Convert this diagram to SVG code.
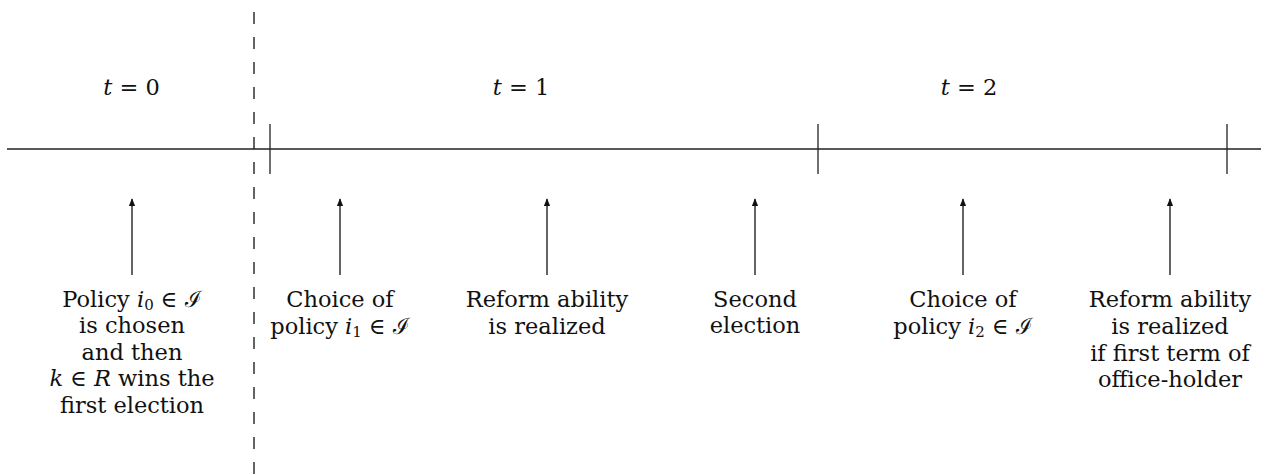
<svg xmlns="http://www.w3.org/2000/svg" width="1268" height="475" viewBox="0 0 1268 475">
<style>
.lbl{font-family:"DejaVu Serif",serif;font-size:22.5px;fill:#111;text-anchor:middle}
.m{font-style:italic}
.sub{font-size:15px}
.ax{stroke:#222;stroke-width:1.3;fill:none}
.arr{stroke:#111;stroke-width:1.3;fill:none;marker-end:url(#ah)}
</style>
<defs>
<marker id="ah" viewBox="0 0 10 10" refX="9" refY="5" markerWidth="8" markerHeight="8" markerUnits="userSpaceOnUse" orient="auto">
<path d="M0,1 L10,5 L0,9 Z" fill="#111"/>
</marker>
</defs>
<rect width="1268" height="475" fill="#fff"/>
<g id="timeline">
<line class="ax" x1="7" y1="149" x2="1261" y2="149"/>
<line class="ax" x1="270" y1="124" x2="270" y2="174"/>
<line class="ax" x1="818" y1="124" x2="818" y2="174"/>
<line class="ax" x1="1227" y1="124" x2="1227" y2="174"/>
<line x1="254" y1="12" x2="254" y2="475" stroke="#111" stroke-width="1.3" stroke-dasharray="12 13"/>
</g>
<g id="periods">
<text class="lbl" x="131.5" y="95"><tspan class="m">t</tspan> = 0</text>
<text class="lbl" x="521" y="95"><tspan class="m">t</tspan> = 1</text>
<text class="lbl" x="969" y="95"><tspan class="m">t</tspan> = 2</text>
</g>
<g id="node1">
<text class="lbl" x="132" y="307">Policy <tspan class="m">i</tspan><tspan class="sub" dy="3">0</tspan><tspan dy="-3"> ∈ ℐ</tspan></text>
<text class="lbl" x="132" y="333">is chosen</text>
<text class="lbl" x="132" y="360">and then</text>
<text class="lbl" x="132" y="386"><tspan class="m">k</tspan> ∈ <tspan class="m">R</tspan> wins the</text>
<text class="lbl" x="132" y="413">first election</text>
</g>
<g id="node2">
<text class="lbl" x="340" y="307">Choice of</text>
<text class="lbl" x="340" y="334">policy <tspan class="m">i</tspan><tspan class="sub" dy="3">1</tspan><tspan dy="-3"> ∈ ℐ</tspan></text>
</g>
<g id="node3">
<text class="lbl" x="547" y="307">Reform ability</text>
<text class="lbl" x="547" y="334">is realized</text>
</g>
<g id="node4">
<text class="lbl" x="755" y="307">Second</text>
<text class="lbl" x="755" y="333">election</text>
</g>
<g id="node5">
<text class="lbl" x="963" y="307">Choice of</text>
<text class="lbl" x="963" y="334">policy <tspan class="m">i</tspan><tspan class="sub" dy="3">2</tspan><tspan dy="-3"> ∈ ℐ</tspan></text>
</g>
<g id="node6">
<text class="lbl" x="1170" y="307">Reform ability</text>
<text class="lbl" x="1170" y="334">is realized</text>
<text class="lbl" x="1170" y="361">if first term of</text>
<text class="lbl" x="1170" y="387">office-holder</text>
</g>
<g id="connectors">
<line class="arr" x1="132" y1="275" x2="132" y2="199"/>
<line class="arr" x1="340" y1="275" x2="340" y2="199"/>
<line class="arr" x1="547" y1="275" x2="547" y2="199"/>
<line class="arr" x1="755" y1="275" x2="755" y2="199"/>
<line class="arr" x1="963" y1="275" x2="963" y2="199"/>
<line class="arr" x1="1170" y1="275" x2="1170" y2="199"/>
</g>
</svg>
